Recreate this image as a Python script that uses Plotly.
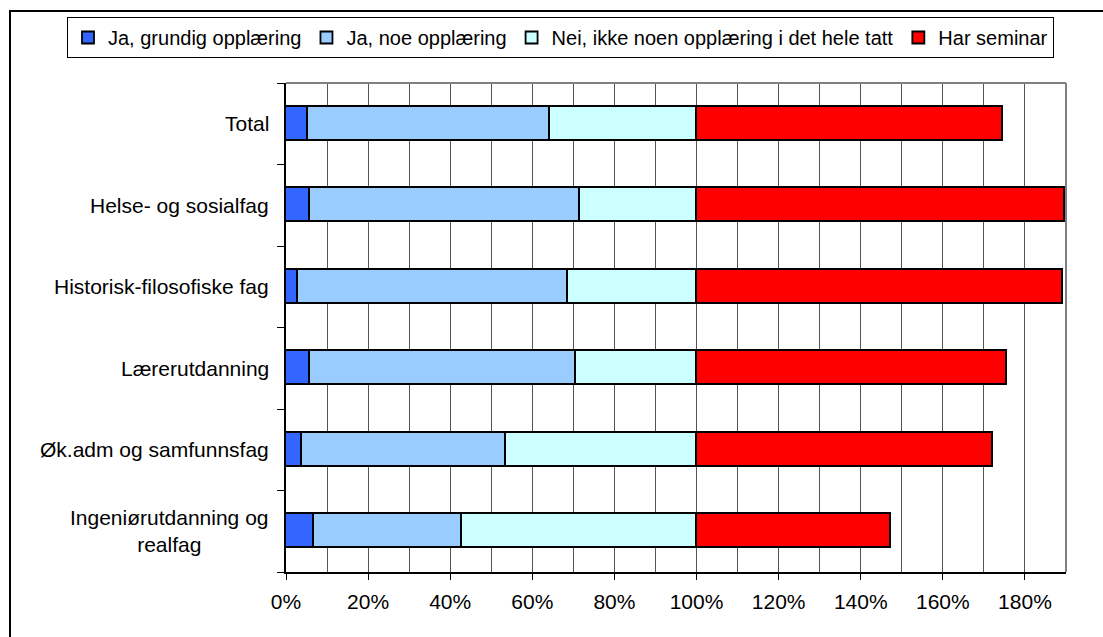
import plotly.graph_objects as go

# ---- data (percent) ----
categories = ["Total", "Helse- og sosialfag", "Historisk-filosofiske fag",
              "Lærerutdanning", "Øk.adm og samfunnsfag", "Ingeniørutdanning og<br>realfag"]
series_names = ["Ja, grundig opplæring", "Ja, noe opplæring",
                "Nei, ikke noen opplæring i det hele tatt", "Har seminar"]
grundig = [5.3, 5.9, 2.9, 5.9, 3.9, 6.8]
noe = [59.1, 65.8, 65.9, 64.8, 49.8, 36.1]
ingen = [35.6, 28.3, 31.2, 29.3, 46.3, 57.1]
seminar = [74.7, 89.8, 89.3, 75.6, 72.3, 47.3]
x_tick_values = [0, 20, 40, 60, 80, 100, 120, 140, 160, 180]
x_tick_labels = [f"{v}%" for v in x_tick_values]

colors = ["#3366FF", "#99CCFF", "#CCFFFF", "#FF0000"]
FONT = "Liberation Sans, Arial, sans-serif"

n = len(categories)
ypos = [n - 1 - i for i in range(n)]  # Total at top

fig = go.Figure()
for name, vals, col in zip(series_names, [grundig, noe, ingen, seminar], colors):
    fig.add_trace(go.Bar(
        y=ypos, x=vals, name=name, orientation="h",
        width=0.42,
        marker=dict(color=col, line=dict(color="black", width=1.8)),
    ))

W, H = 1103, 637
L, R, T, B = 286, 37, 83, 65
pw, ph = W - L - R, H - T - B

shapes = [
    # outer chart border (extends beyond right/bottom of image)
    dict(type="rect", xref="paper", yref="paper",
         x0=(10 - L) / pw, x1=(W + 5 - L) / pw,
         y0=-(H + 5 - (H - B)) / ph, y1=1 + (T - 11) / ph,
         line=dict(color="black", width=2), fillcolor="rgba(0,0,0,0)", layer="below"),
    # plot area top/right border in gray
    dict(type="line", xref="paper", yref="paper", x0=0, x1=1, y0=1, y1=1,
         line=dict(color="#808080", width=2)),
    dict(type="line", xref="paper", yref="paper", x0=1, x1=1, y0=0, y1=1,
         line=dict(color="#808080", width=2)),
]

annotations = []
for cat, yp in zip(categories, ypos):
    annotations.append(dict(
        x=0, xref="paper", y=yp, yref="y", xanchor="right", yanchor="middle",
        xshift=-15, text=cat, showarrow=False, align="center",
        font=dict(family=FONT, size=21, color="black")))

fig.update_layout(
    width=W, height=H,
    margin=dict(l=L, r=R, t=T, b=B, autoexpand=False),
    paper_bgcolor="white", plot_bgcolor="white",
    barmode="stack", bargap=0,
    font=dict(family=FONT, size=21, color="black"),
    showlegend=True,
    legend=dict(orientation="h", xref="paper", yref="paper",
                x=(67 - L) / pw, y=1 + (T - 17) / ph, xanchor="left", yanchor="top",
                bordercolor="black", borderwidth=1, bgcolor="white",
                traceorder="normal",
                font=dict(family=FONT, size=20, color="black")),
    xaxis=dict(range=[0, 190], tickmode="array", tickvals=x_tick_values,
               ticktext=x_tick_labels, ticks="outside", ticklen=6,
               tickcolor="black", tickwidth=1,
               showline=True, linecolor="black", linewidth=2,
               showgrid=True, gridcolor="#555555", gridwidth=1,
               minor=dict(dtick=10, tick0=0, showgrid=True, gridcolor="#555555",
                          gridwidth=1, ticks=""),
               zeroline=False, ticklabelstandoff=4,
               tickfont=dict(family=FONT, size=21, color="black")),
    yaxis=dict(range=[-0.5, n - 0.5], showticklabels=False, ticks="",
               tickmode="array", tickvals=ypos,
               showgrid=False, zeroline=False,
               showline=True, linecolor="black", linewidth=2,
               minor=dict(tickmode="array",
                          tickvals=[v - 0.5 for v in range(n + 1)],
                          ticks="outside", ticklen=7, tickcolor="black",
                          tickwidth=1, showgrid=False)),
    shapes=shapes, annotations=annotations,
)

fig.write_html("out.html", config={"displayModeBar": False},
               post_script="document.body.style.margin='0';document.body.style.overflow='hidden';")
